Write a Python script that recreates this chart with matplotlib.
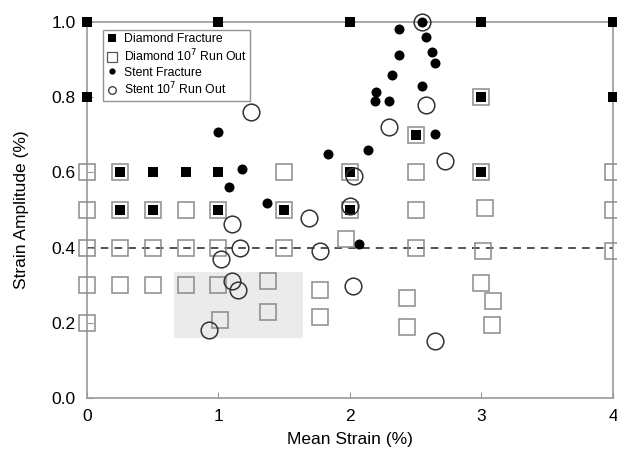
import matplotlib
matplotlib.use("Agg")
import matplotlib.pyplot as plt
from matplotlib.lines import Line2D
from matplotlib.patches import Rectangle

plt.rcParams["font.family"] = ["Liberation Sans", "DejaVu Sans"]

# Diamond fracture (filled squares)
diamond_frac_x = [0, 1, 2, 3, 4, 0, 4, 3, 2.5,
                  0.25, 0.5, 0.75, 1.0, 2.0, 3.0,
                  0.25, 0.5, 1.0, 1.5, 2.0]
diamond_frac_y = [1.0, 1.0, 1.0, 1.0, 1.0, 0.8, 0.8, 0.8, 0.7,
                  0.6, 0.6, 0.6, 0.6, 0.6, 0.6,
                  0.5, 0.5, 0.5, 0.5, 0.5]

# Diamond 10^7 run out (open squares)
diamond_run_x = [3.0, 2.5,
                 0, 0.25, 1.5, 2.0, 2.5, 3.0, 4.0,
                 0, 0.25, 0.5, 0.75, 1.0, 1.5, 2.0, 2.5, 3.03, 4.0,
                 0, 0.25, 0.5, 0.75, 1.0, 1.5, 1.97, 2.5, 3.01, 4.0,
                 0, 0.25, 0.5, 0.75, 1.0, 1.38, 1.77, 2.43, 3.0, 3.09,
                 0, 1.01, 1.38, 1.77, 2.43, 3.08]
diamond_run_y = [0.8, 0.7,
                 0.6, 0.6, 0.6, 0.6, 0.6, 0.6, 0.6,
                 0.5, 0.5, 0.5, 0.5, 0.5, 0.5, 0.5, 0.5, 0.505, 0.5,
                 0.4, 0.4, 0.4, 0.4, 0.4, 0.4, 0.423, 0.4, 0.39, 0.39,
                 0.3, 0.3, 0.3, 0.3, 0.3, 0.31, 0.287, 0.266, 0.305, 0.258,
                 0.2, 0.207, 0.229, 0.215, 0.189, 0.194]

# Stent fracture (filled circles)
stent_frac_x = [1.0, 1.08, 1.18, 1.37, 1.83, 2.14, 2.07,
                2.19, 2.20, 2.30, 2.32, 2.37, 2.37, 2.55, 2.58, 2.62, 2.65, 2.55, 2.65]
stent_frac_y = [0.707, 0.562, 0.609, 0.52, 0.65, 0.66, 0.41,
                0.79, 0.814, 0.79, 0.86, 0.912, 0.981, 1.0, 0.96, 0.92, 0.89, 0.83, 0.702]

# Stent 10^7 run out (open circles)
stent_run_x = [1.25, 2.55, 2.58, 2.30, 2.72, 2.03, 2.0, 1.69, 1.10, 1.16,
               1.02, 1.77, 1.10, 1.15, 2.02, 0.93, 2.65]
stent_run_y = [0.76, 1.0, 0.779, 0.721, 0.63, 0.59, 0.51, 0.48, 0.463, 0.399,
               0.37, 0.39, 0.31, 0.287, 0.298, 0.181, 0.152]

# shaded window and endurance limit
box_x = (0.66, 1.64)
box_y = (0.16, 0.335)
limit_y = 0.4

fig = plt.figure(figsize=(6.17, 4.54), dpi=100)
ax = fig.add_axes([0.141, 0.1233, 0.8525, 0.8282])

ax.add_patch(Rectangle((box_x[0], box_y[0]), box_x[1] - box_x[0], box_y[1] - box_y[0],
                       facecolor="#ebebeb", edgecolor="none", zorder=0))
ax.axhline(limit_y, color="#222222", lw=1.1, ls=(0, (5, 4)), zorder=1)

ax.plot(diamond_run_x, diamond_run_y, ls="none", marker="s", ms=11.5, mfc="none",
        mec="#8a8a8a", mew=1.1, clip_on=False, zorder=3)
ax.plot(diamond_frac_x, diamond_frac_y, ls="none", marker="s", ms=7.2, mfc="black",
        mec="black", mew=0, clip_on=False, zorder=4)
ax.plot(stent_frac_x, stent_frac_y, ls="none", marker="o", ms=7.2, mfc="black",
        mec="black", mew=0, clip_on=False, zorder=4)
ax.plot(stent_run_x, stent_run_y, ls="none", marker="o", ms=12, mfc="none",
        mec="#333333", mew=1.1, clip_on=False, zorder=5)

ax.set_xlim(0, 4)
ax.set_ylim(0, 1.0)
ax.set_xticks([0, 1, 2, 3, 4])
ax.set_xticklabels(["0", "1", "2", "3", "4"])
ax.set_yticks([0.0, 0.2, 0.4, 0.6, 0.8, 1.0])
ax.set_yticklabels(["0.0", "0.2", "0.4", "0.6", "0.8", "1.0"])
ax.tick_params(direction="in", length=4, color="#999999", labelsize=12.5, pad=8)
for s in ax.spines.values():
    s.set_color("#999999")
    s.set_linewidth(1.2)

ax.set_xlabel("Mean Strain (%)", fontsize=12.5, labelpad=6)
ax.set_ylabel("Strain Amplitude (%)", fontsize=12.5, labelpad=16)

legend_handles = [
    Line2D([], [], ls="none", marker="s", ms=6, mfc="black", mec="black", mew=0),
    Line2D([], [], ls="none", marker="s", ms=6.5, mfc="white", mec="#555555", mew=0.9),
    Line2D([], [], ls="none", marker="o", ms=4.5, mfc="black", mec="black", mew=0),
    Line2D([], [], ls="none", marker="o", ms=5.5, mfc="white", mec="#333333", mew=0.9),
]
legend_labels = ["Diamond Fracture", "Diamond 10$^7$ Run Out",
                 "Stent Fracture", "Stent 10$^7$ Run Out"]
leg = ax.legend(legend_handles, legend_labels,
                loc="upper left", bbox_to_anchor=(0.03, 0.98), fontsize=8.8,
                handlelength=0.9, handletextpad=0.5, borderpad=0.3,
                labelspacing=0.2, borderaxespad=0, frameon=True, fancybox=False)
leg.get_frame().set_edgecolor("#777777")
leg.get_frame().set_linewidth(1.0)
leg.set_zorder(6)

fig.savefig("out.png", dpi=100)
